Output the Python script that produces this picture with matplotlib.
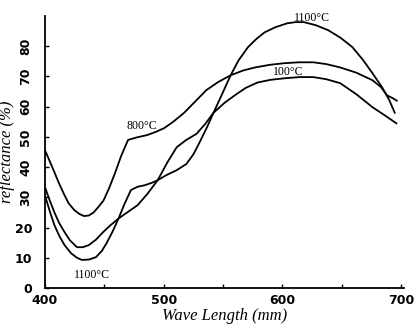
import matplotlib
matplotlib.use("Agg")
import matplotlib.pyplot as plt

# reflectance curves
wl_800 = [400, 404, 408, 412, 416.5, 420, 424.7, 429, 433, 437, 441, 445, 449.4, 454, 459,
          464, 470, 478, 486, 493, 500.4, 508, 517, 526, 536, 546, 556.4, 567, 577, 590,
          601.6, 614, 626, 637, 648.6, 662, 675.7, 683, 688, 693, 696.3]
r_800 = [45.6, 42, 38.3, 34.5, 30.7, 28, 25.8, 24.5, 23.8, 24, 25, 26.8, 29, 33, 38,
         43.5, 49, 49.9, 50.6, 51.6, 52.9, 55, 57.9, 61.5, 65.5, 68.2, 70.4, 72, 73, 73.9,
         74.4, 74.7, 74.7, 74.1, 73, 71.3, 68.8, 66.5, 63.8, 62.8, 62]

wl_100 = [400, 404, 408, 412, 416.5, 421, 427, 432, 437, 443, 449, 455, 462, 470, 478,
          486, 495, 503, 511, 519, 527.6, 535, 542, 551, 560, 569, 579, 590, 601.6, 614,
          626, 637, 648.6, 662, 676, 686, 696]
r_100 = [33.4, 29, 25, 21.5, 18.5, 15.8, 13.5, 13.5, 14.2, 16, 18.5, 20.7, 23, 25.2, 27.4,
         31, 35.7, 41.5, 46.6, 49, 51, 54.3, 58, 61.2, 63.8, 66.2, 68, 68.9, 69.4, 69.8,
         69.8, 69.1, 67.8, 64.2, 59.8, 57.2, 54.5]

wl_1100 = [400, 404, 408, 412, 416.5, 422, 427, 431, 437, 443, 448, 452, 457, 462, 467,
           472.4, 478, 484, 490, 495, 503, 511, 519, 525, 530, 536, 542, 549, 556.4, 563,
           571, 578, 585, 594, 604, 611, 618, 628, 638.7, 649, 659, 668, 676, 684, 690,
           694.6]
r_1100 = [30.7, 25.5, 20.8, 17.3, 14.2, 11.5, 10, 9.3, 9.4, 10.2, 12.3, 14.9, 18.7, 23, 27.8,
          32.4, 33.5, 34, 34.8, 35.7, 37.5, 39, 41, 44.2, 48, 52.8, 58, 64, 70.4, 75.3,
          79.7, 82.4, 84.6, 86.3, 87.6, 88, 88, 87, 85.3, 82.8, 79.7, 75.4, 71, 66.4, 62.2,
          58]

xticks = [400, 500, 600, 700]
yticks = [0, 10, 20, 30, 40, 50, 60, 70, 80]
minor_x = [400, 450, 500, 550, 600, 650, 700]

fig = plt.figure(figsize=(4.16, 3.28), dpi=100)
ax = fig.add_axes([0.108, 0.122, 0.862, 0.829])
for x, y in [(wl_800, r_800), (wl_100, r_100), (wl_1100, r_1100)]:
    ax.plot(x, y, color="black", lw=1.3, solid_joinstyle="round")

ax.set_xlim(400, 702)
ax.set_ylim(0, 90)
ax.spines[["top", "right"]].set_visible(False)
ax.spines[["left", "bottom"]].set_linewidth(1.3)
ax.set_xticks(minor_x)
ax.set_xticklabels([str(t) if t in xticks else "" for t in minor_x],
                   fontsize=9, fontweight="bold")
ax.set_yticks(yticks)
ax.set_yticklabels([str(t) for t in yticks], fontsize=9, fontweight="bold")
for lab, t in zip(ax.get_yticklabels(), yticks):
    if t >= 30:
        lab.set_rotation(90)
        lab.set_va("center")
ax.tick_params(direction="in", length=3, width=1)
ax.tick_params(axis="x", pad=4)
ax.tick_params(axis="y", pad=9)

ax.set_xlabel("Wave Length (mm)", fontsize=12, family="Liberation Serif",
              style="italic", labelpad=1)
ax.set_ylabel("reflectance (%)", fontsize=12, family="Liberation Serif",
              style="italic", labelpad=0)

ax.text(625, 87.5, "1100°C", fontsize=8.5, ha="center", va="bottom", family="Liberation Serif")
ax.text(605, 71.6, "100°C", fontsize=8.5, ha="center", va="center", family="Liberation Serif")
ax.text(482, 53.5, "800°C", fontsize=8.5, ha="center", va="center", family="Liberation Serif")
ax.text(440, 4.3, "1100°C", fontsize=8.5, ha="center", va="center", family="Liberation Serif")

fig.savefig("out.png", dpi=100)
